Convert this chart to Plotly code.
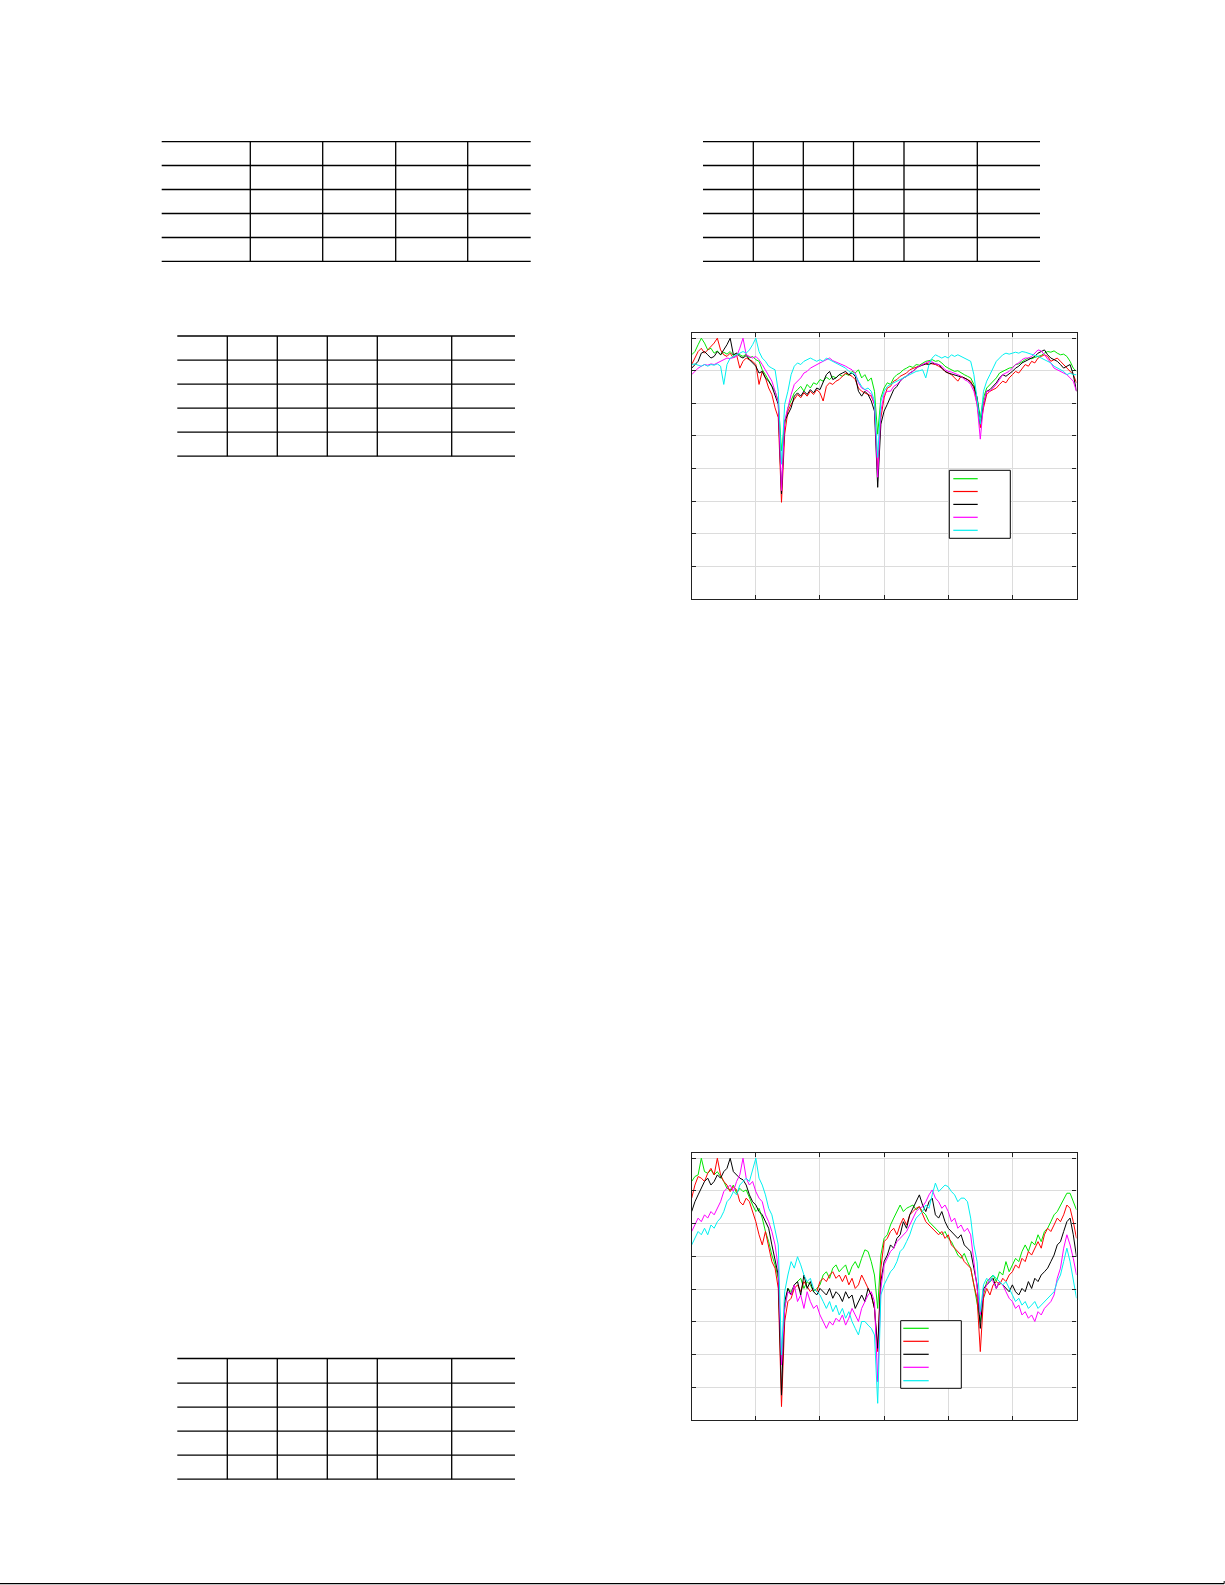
import plotly.graph_objects as go

W, H = 1225, 1585

# sample positions along the horizontal axis (6 grid divisions)
X = [round(0.05 * i, 2) for i in range(121)]

# ---------------- upper chart: five series ----------------
G1 = [-5.1,-4.1,-2.0,0.0,-1.5,-3.6,-3.1,-4.6,-3.9,-5.1,
      -4.3,-4.9,-4.1,-5.3,-4.6,-5.1,-5.6,-4.9,-6.1,-5.6,
      -6.6,-7.1,-9.7,-11.2,-13.2,-14.8,-16.3,-19.3,-34.6,-26.4,
      -21.4,-19.3,-16.8,-15.8,-14.8,-16.3,-14.2,-15.3,-13.7,-14.2,
      -12.7,-13.2,-12.0,-12.7,-11.7,-12.2,-11.2,-11.7,-11.0,-11.4,
      -10.2,-10.7,-9.7,-12.2,-11.2,-13.2,-12.2,-16.3,-29.5,-18.3,
      -15.3,-13.7,-14.2,-12.2,-11.2,-10.7,-9.7,-9.2,-8.6,-9.0,
      -8.1,-8.3,-7.6,-7.1,-6.9,-6.6,-7.1,-6.9,-7.6,-8.6,
      -9.2,-9.7,-10.2,-10.0,-10.7,-11.2,-11.7,-12.2,-14.2,-18.3,
      -24.4,-18.3,-15.3,-14.2,-13.2,-12.2,-10.7,-10.2,-9.7,-9.2,
      -9.0,-8.1,-7.9,-7.1,-6.6,-6.1,-6.3,-5.9,-5.6,-5.3,
      -4.6,-4.1,-4.3,-3.9,-4.6,-5.1,-4.9,-5.6,-7.1,-9.2,
      -10.2]
R1 = [-8.1,-6.1,-4.1,-3.1,-4.6,-3.6,-2.5,-1.5,0.0,-3.6,
      -5.1,-5.6,-4.6,-6.1,-5.1,-9.2,-7.1,-6.1,-6.6,-7.1,
      -8.1,-14.2,-10.2,-12.2,-15.3,-17.3,-21.4,-24.4,-50.4,-29.5,
      -22.4,-20.3,-18.8,-17.3,-18.3,-16.8,-17.8,-16.3,-17.3,-15.8,
      -16.8,-19.3,-14.8,-13.7,-14.2,-13.2,-12.7,-11.7,-10.7,-11.2,
      -11.7,-12.7,-15.3,-16.3,-16.8,-17.3,-17.8,-20.3,-40.7,-24.4,
      -18.3,-15.3,-14.8,-13.2,-12.7,-11.7,-11.2,-10.7,-9.7,-9.2,
      -8.9,-8.6,-8.1,-7.9,-7.6,-7.9,-8.1,-8.6,-9.2,-10.2,
      -10.7,-11.2,-12.2,-13.2,-11.7,-12.2,-12.7,-13.2,-15.3,-20.3,
      -27.5,-21.4,-17.3,-16.3,-15.8,-15.3,-14.2,-13.2,-13.7,-12.2,
      -11.2,-10.2,-10.7,-9.2,-8.1,-8.6,-7.1,-7.6,-6.1,-5.6,
      -5.1,-5.6,-7.1,-6.6,-6.1,-7.1,-8.1,-9.2,-10.2,-11.2,
      -13.7]
K1 = [-9.2,-8.1,-7.1,-4.6,-4.1,-5.1,-6.1,-5.6,-4.1,-5.1,
      -3.6,-2.0,0.0,-5.1,-4.6,-5.6,-6.1,-5.3,-6.6,-7.6,
      -8.6,-10.7,-10.2,-12.2,-13.2,-14.8,-17.3,-20.3,-47.8,-25.4,
      -23.4,-21.4,-17.8,-16.8,-17.8,-16.3,-17.3,-15.8,-16.8,-15.3,
      -15.8,-13.2,-11.2,-10.2,-12.7,-12.2,-11.2,-10.7,-10.2,-11.2,
      -10.7,-11.7,-16.3,-17.8,-16.3,-17.3,-19.3,-22.4,-45.8,-26.4,
      -22.4,-20.3,-18.3,-15.8,-14.8,-13.2,-12.2,-11.7,-10.7,-10.2,
      -9.2,-8.6,-8.3,-7.9,-8.1,-7.6,-7.9,-8.1,-9.2,-10.2,
      -10.7,-11.0,-11.2,-11.7,-12.0,-12.2,-12.7,-13.7,-14.8,-18.3,
      -26.4,-20.3,-16.3,-15.8,-14.8,-13.7,-12.2,-11.2,-11.7,-11.0,
      -10.2,-9.2,-8.6,-7.6,-7.1,-6.6,-6.1,-5.6,-4.6,-4.1,
      -3.6,-5.1,-6.1,-6.6,-7.1,-8.1,-9.2,-8.6,-8.1,-11.2,
      -16.3]
M1 = [-11.2,-10.2,-9.2,-8.6,-8.1,-8.3,-7.9,-8.1,-7.6,-7.1,
      -6.6,-6.1,-6.3,-5.9,-5.6,-3.1,0.0,-5.1,-5.6,-6.1,
      -5.6,-6.6,-8.1,-9.7,-11.2,-13.2,-16.3,-19.8,-46.8,-25.4,
      -21.4,-17.3,-14.2,-13.2,-12.2,-10.7,-10.2,-9.2,-8.6,-8.1,
      -7.6,-7.1,-6.6,-6.1,-6.9,-7.3,-7.6,-8.1,-8.6,-9.2,
      -9.7,-10.7,-13.7,-15.3,-15.8,-16.3,-17.3,-20.3,-42.7,-22.4,
      -17.3,-16.3,-16.3,-14.8,-14.2,-13.2,-12.2,-11.7,-10.7,-10.2,
      -9.2,-8.6,-8.1,-7.6,-7.1,-7.3,-7.9,-8.1,-8.6,-9.7,
      -10.2,-10.4,-10.7,-11.2,-11.7,-12.7,-13.2,-14.2,-16.3,-20.3,
      -31.0,-20.3,-16.3,-16.3,-15.3,-14.2,-12.7,-11.2,-10.7,-10.2,
      -9.2,-8.1,-7.6,-6.6,-6.1,-6.1,-5.6,-4.6,-3.6,-3.9,
      -5.1,-6.1,-7.6,-9.2,-9.7,-10.2,-10.7,-11.2,-12.2,-13.2,
      -16.3]
C1 = [-8.1,-7.9,-8.3,-8.6,-8.1,-8.6,-8.1,-8.3,-7.9,-8.6,
      -14.2,-8.1,-6.1,-5.6,-5.1,-4.6,-4.1,-4.6,-3.6,-2.0,
      0.0,-4.1,-6.1,-7.1,-8.6,-9.2,-9.7,-16.3,-38.7,-20.3,
      -16.3,-11.2,-8.6,-7.6,-8.1,-7.1,-6.6,-6.1,-6.6,-7.1,
      -6.6,-7.1,-6.1,-6.6,-7.1,-7.6,-8.1,-8.6,-9.2,-10.2,
      -10.7,-11.2,-13.2,-14.8,-15.8,-15.3,-16.3,-19.3,-36.6,-19.3,
      -16.3,-14.8,-14.2,-13.7,-13.2,-12.7,-12.2,-11.7,-11.2,-10.7,
      -10.2,-10.0,-9.7,-12.2,-8.1,-6.1,-5.1,-5.6,-6.1,-5.6,
      -6.1,-5.1,-5.6,-5.1,-5.6,-6.1,-6.6,-7.1,-11.2,-18.3,
      -26.4,-16.3,-13.2,-11.2,-9.2,-7.1,-6.1,-5.1,-4.6,-4.9,
      -4.6,-4.3,-4.6,-4.1,-4.3,-4.6,-4.9,-5.1,-5.6,-6.1,
      -6.6,-7.1,-7.6,-8.6,-9.2,-9.7,-10.2,-11.2,-10.7,-11.2,
      -11.2]

# ---------------- lower chart: five series ----------------
G2 = [-7.1,-5.6,-5.1,0.0,-4.1,-4.6,-3.6,-5.1,-4.1,-5.6,
      -7.1,-9.2,-9.7,-8.2,-10.7,-9.2,-10.2,-9.7,-12.2,-14.3,
      -16.3,-15.3,-18.3,-22.4,-25.5,-29.6,-32.6,-36.7,-62.2,-45.9,
      -39.8,-40.8,-38.7,-37.7,-36.7,-39.8,-37.7,-38.7,-40.8,-39.8,
      -38.7,-35.7,-34.7,-36.7,-33.6,-32.6,-34.7,-33.6,-32.6,-35.7,
      -33.1,-31.6,-33.6,-30.6,-28.0,-28.5,-31.6,-35.7,-45.9,-29.6,
      -24.5,-23.4,-20.4,-18.3,-16.3,-14.3,-16.3,-15.3,-14.8,-14.3,
      -15.8,-14.8,-16.3,-17.3,-19.4,-20.4,-21.4,-22.4,-23.4,-22.4,
      -24.5,-25.5,-27.5,-29.6,-30.6,-29.1,-31.6,-33.6,-38.7,-43.8,
      -49.9,-41.8,-37.7,-36.7,-35.7,-37.7,-34.7,-35.7,-31.6,-34.7,
      -32.6,-30.6,-31.6,-28.5,-26.5,-28.5,-25.5,-26.5,-23.4,-25.5,
      -22.4,-21.4,-19.4,-17.3,-16.3,-14.3,-12.2,-10.7,-10.7,-13.3,
      -15.8]
R2 = [-12.2,-8.2,-5.6,-6.1,-7.1,-4.6,-3.1,-5.1,0.0,-5.1,
      -7.1,-8.2,-10.2,-8.7,-9.7,-13.3,-14.3,-12.2,-13.3,-16.3,
      -19.4,-23.4,-26.5,-22.4,-27.5,-31.6,-33.6,-39.8,-75.9,-49.9,
      -43.8,-42.8,-39.8,-38.7,-40.8,-37.7,-39.2,-40.8,-39.8,-40.8,
      -37.7,-36.7,-37.7,-35.7,-34.7,-36.7,-35.7,-37.7,-35.7,-38.7,
      -36.7,-39.8,-38.7,-35.7,-37.7,-39.8,-41.8,-45.9,-59.1,-33.6,
      -25.5,-24.5,-22.4,-21.4,-23.4,-20.4,-18.3,-20.4,-17.3,-16.3,
      -15.3,-14.8,-17.3,-19.4,-20.4,-21.4,-22.4,-23.4,-22.4,-24.5,
      -23.4,-26.5,-27.5,-28.5,-29.6,-31.6,-32.6,-33.6,-38.7,-42.8,
      -59.1,-42.8,-39.8,-41.8,-38.7,-37.7,-38.7,-36.7,-37.7,-35.7,
      -34.7,-32.6,-33.6,-30.6,-31.6,-28.5,-29.6,-27.5,-25.5,-27.5,
      -23.4,-21.4,-22.4,-20.4,-18.3,-19.4,-17.3,-14.3,-15.3,-19.4,
      -24.5]
K2 = [-16.3,-13.3,-11.2,-9.2,-7.1,-6.1,-8.2,-7.1,-5.1,-6.1,
      -4.1,-3.1,0.0,-4.1,-5.1,-6.1,-6.6,-8.2,-11.2,-13.3,
      -14.3,-16.3,-17.3,-19.4,-21.4,-26.5,-31.6,-35.7,-72.4,-43.8,
      -39.8,-41.8,-38.7,-37.7,-41.8,-35.7,-39.8,-37.7,-40.8,-41.8,
      -39.8,-40.8,-41.8,-39.8,-42.8,-40.8,-41.8,-43.8,-40.8,-42.8,
      -41.8,-45.9,-43.8,-41.8,-43.8,-39.8,-41.8,-45.9,-58.1,-37.7,
      -31.6,-29.6,-26.5,-27.5,-24.5,-23.4,-19.4,-21.4,-17.3,-15.3,
      -13.3,-11.2,-14.3,-16.3,-13.3,-12.2,-17.3,-18.3,-16.3,-19.4,
      -21.4,-22.4,-23.4,-24.5,-23.4,-26.5,-27.5,-28.5,-33.6,-38.7,
      -52.0,-39.8,-38.7,-37.7,-36.7,-39.8,-37.7,-38.7,-39.8,-40.8,
      -38.7,-40.8,-41.8,-39.8,-40.8,-37.7,-39.8,-36.7,-37.7,-35.7,
      -34.7,-33.6,-31.6,-29.6,-26.5,-25.5,-22.4,-19.4,-18.3,-23.4,
      -30.1]
M2 = [-22.4,-20.4,-18.3,-19.4,-17.3,-18.3,-16.3,-17.3,-15.3,-13.3,
      -10.2,-9.2,-8.2,-10.2,-7.1,-5.1,0.0,-6.1,-8.2,-7.1,
      -10.2,-12.2,-13.3,-17.3,-19.4,-22.4,-26.5,-33.6,-63.2,-45.9,
      -40.8,-41.8,-38.7,-43.8,-41.8,-45.9,-40.8,-43.8,-45.9,-44.9,
      -47.9,-49.9,-52.0,-49.9,-51.0,-48.9,-49.9,-47.9,-51.0,-48.9,
      -45.9,-47.9,-49.9,-45.9,-43.8,-41.8,-40.8,-43.8,-68.3,-39.8,
      -32.6,-30.6,-28.5,-27.5,-25.5,-24.5,-23.4,-22.4,-20.4,-18.3,
      -16.3,-15.3,-14.8,-13.3,-11.2,-9.7,-12.2,-13.3,-15.3,-14.3,
      -16.3,-19.4,-18.3,-21.4,-20.4,-22.4,-21.4,-23.4,-31.6,-38.7,
      -47.9,-40.8,-38.7,-36.7,-37.7,-39.8,-37.7,-38.7,-40.8,-42.8,
      -43.8,-45.9,-44.9,-47.9,-46.9,-48.9,-47.9,-49.9,-46.9,-47.9,
      -45.9,-44.9,-43.8,-41.8,-36.7,-33.6,-27.5,-23.4,-26.5,-30.6,
      -35.7]
C2 = [-26.5,-24.5,-22.4,-23.4,-21.4,-23.4,-20.4,-21.4,-19.4,-18.3,
      -16.3,-13.3,-12.2,-10.2,-11.2,-8.2,-7.1,-6.1,-7.1,-3.1,
      0.0,-6.1,-8.2,-11.2,-15.3,-17.3,-21.4,-26.5,-60.1,-40.8,
      -35.7,-31.6,-33.6,-30.1,-32.6,-35.7,-37.7,-36.7,-39.8,-40.8,
      -41.8,-43.8,-45.9,-43.8,-46.9,-44.9,-47.9,-45.9,-48.9,-46.9,
      -49.9,-52.0,-54.0,-49.9,-49.9,-51.0,-52.0,-54.0,-74.9,-41.8,
      -38.7,-36.7,-34.7,-33.6,-31.6,-28.5,-27.5,-25.5,-23.4,-20.4,
      -18.3,-17.3,-16.3,-14.3,-15.3,-11.2,-7.6,-10.2,-9.2,-8.2,
      -8.7,-10.2,-11.2,-13.3,-12.2,-12.2,-13.3,-18.3,-26.5,-31.6,
      -46.9,-38.7,-36.7,-37.7,-35.7,-36.7,-37.7,-38.7,-37.7,-39.8,
      -41.8,-43.8,-42.8,-44.9,-43.8,-45.9,-44.9,-43.8,-45.9,-44.9,
      -43.8,-42.8,-41.8,-40.8,-37.7,-35.7,-31.6,-27.5,-31.6,-37.7,
      -42.8]

COLORS = ["#00e600", "#ff0000", "#000000", "#ff00ff", "#00f0f0"]


def px(x):
    return x / W


def py(y):
    return 1 - y / H


fig = go.Figure()
for ys, col in zip([G1, R1, K1, M1, C1], COLORS):
    fig.add_trace(go.Scatter(x=X[:len(ys)], y=ys, mode="lines",
                             line=dict(color=col, width=1),
                             xaxis="x", yaxis="y", showlegend=False,
                             hoverinfo="skip"))
for ys, col in zip([G2, R2, K2, M2, C2], COLORS):
    fig.add_trace(go.Scatter(x=X[:len(ys)], y=ys, mode="lines",
                             line=dict(color=col, width=1),
                             xaxis="x2", yaxis="y2", showlegend=False,
                             hoverinfo="skip"))

common = dict(showline=True, linecolor="#222222", linewidth=1.2, mirror="ticks",
              ticks="inside", ticklen=4, tickcolor="#222222", tickwidth=1,
              showgrid=True, gridcolor="#dcdcdc", gridwidth=1,
              zeroline=False, showticklabels=False, fixedrange=True)
xr = dict(range=[0, 6], dtick=1, tick0=0)
yr = dict(range=[-80, 1.5], dtick=10, tick0=0)

fig.update_layout(
    width=W, height=H, margin=dict(l=0, r=0, t=0, b=0),
    paper_bgcolor="white", plot_bgcolor="white",
    xaxis=dict(domain=[px(691.7), px(1076.5)], anchor="y", **xr, **common),
    yaxis=dict(domain=[py(598.7), py(333.3)], anchor="x", **yr, **common),
    xaxis2=dict(domain=[px(691.7), px(1076.5)], anchor="y2", **xr, **common),
    yaxis2=dict(domain=[py(1420), py(1153.3)], anchor="x2", **yr, **common),
)

shapes = []


def seg(x0, y0, x1, y1, color="black", width=1.3):
    shapes.append(dict(type="line", xref="paper", yref="paper",
                       x0=px(x0), y0=py(y0), x1=px(x1), y1=py(y1),
                       line=dict(color=color, width=width), layer="above"))


def table(x0, x1, cols, rows):
    for r in rows:
        seg(x0, r, x1, r)
    for c in cols:
        seg(c, rows[0], c, rows[-1])


table(161.7, 530.7, [250.3, 322.7, 395.7, 467.7],
      [141.7, 165.5, 189.5, 213.5, 237.5, 261.3])
table(703.0, 1040.0, [753.3, 803.3, 853.5, 904.0, 977.3],
      [141.7, 165.5, 189.5, 213.5, 237.5, 261.3])
table(177.3, 515.0, [227.3, 277.3, 327.3, 377.3, 451.7],
      [336.0, 360.2, 384.2, 408.2, 432.2, 456.2])
table(177.3, 515.0, [227.3, 277.3, 327.3, 377.3, 451.7],
      [1358.5, 1383.2, 1407.2, 1431.2, 1455.2, 1479.2])


def legend_box(x0, x1, y0, y1, lx0, lx1, ly):
    shapes.append(dict(type="rect", xref="paper", yref="paper",
                       x0=px(x0), x1=px(x1), y0=py(y1), y1=py(y0),
                       fillcolor="white", line=dict(color="black", width=1),
                       layer="above"))
    for yy, col in zip(ly, COLORS):
        seg(lx0, yy, lx1, yy, color=col, width=1.2)


legend_box(949.3, 1010.3, 470.3, 538.3, 953.3, 977.7,
           [478.7, 491.5, 504.4, 517.3, 530.3])
legend_box(900.7, 961.3, 1320.7, 1388.3, 903.3, 928.7,
           [1328.3, 1341.3, 1354.3, 1367.3, 1380.7])

# page rule at the bottom
seg(0, 1583.6, 1224.2, 1583.6, width=1.4)
seg(1224.2, 1583.6, 1224.2, 1581.0, width=1.0)

fig.update_layout(shapes=shapes)

fig.write_html("out.html", config={"displayModeBar": False},
               post_script="document.body.style.margin='0';"
                           "document.body.style.overflow='hidden';")
